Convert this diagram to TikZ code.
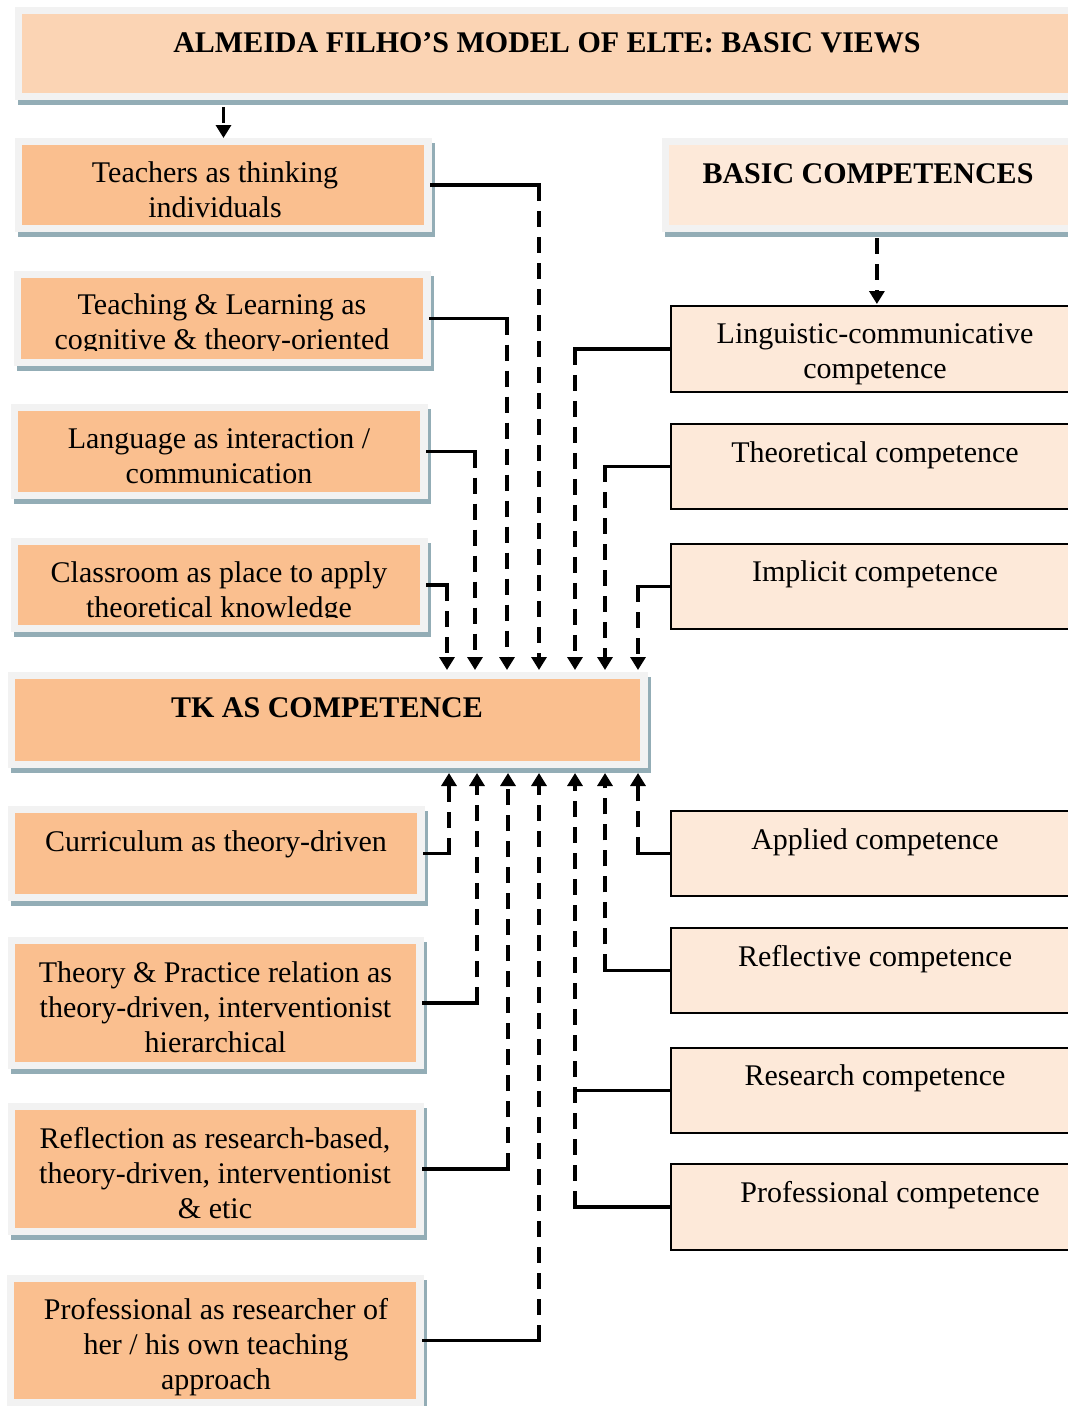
\documentclass[tikz,border=0pt]{standalone}
\usepackage{fontspec}
\setmainfont{Liberation Serif}
\usetikzlibrary{arrows.meta}
\usetikzlibrary{shadows}
\definecolor{framegrey}{HTML}{F2F2F2}
\definecolor{viewfill}{HTML}{FABF8F}
\definecolor{headfill}{HTML}{FBD4B4}
\definecolor{compfill}{HTML}{FDE9D9}
\definecolor{shadowblue}{HTML}{93ADB6}
\newcommand{\boxfont}{\fontsize{30}{35}\selectfont}
\tikzset{viewbox/.style={fill=framegrey,inner sep=0pt,outer sep=0pt,anchor=north west,
drop shadow={shadow xshift=3pt,shadow yshift=-5pt,fill=shadowblue,opacity=1},
path picture={\fill[#1] ([shift={(7pt,-7pt)}]path picture bounding box.north west)
rectangle ([shift={(-8pt,7pt)}]path picture bounding box.south east);}},
viewbox/.default=viewfill}
\tikzset{compbox/.style={rectangle,draw=black,line width=1.8pt,fill=compfill,
inner sep=0pt,minimum width=412pt,anchor=north west}}
\tikzset{viewtext/.style={anchor=north,inner sep=0pt,align=center,font=\boxfont,
execute at begin node=\strut}}
\tikzset{headtext/.style={viewtext,font=\boxfont\bfseries}}
\tikzset{joinline/.style={line width=3.4pt,line cap=rect}}
\tikzset{laneline/.style={line width=3.4pt,dash pattern=on 16pt off 10pt,
-{Triangle[length=13pt,width=15pt]}}}

\begin{document}
\begin{tikzpicture}[x=1pt,y=-1pt]
    \useasboundingbox (0,0) rectangle (1068,1406);

    % headings
    \node[viewbox=headfill,minimum width=1085pt,minimum height=93pt] (title) at (15,7) {};
    \node[viewbox=compfill,minimum width=440pt,minimum height=94pt] (basic) at (662,138) {};

    % basic views
    \node[viewbox,minimum width=417pt,minimum height=94pt] (teach) at (15,138) {};
    \node[viewbox,minimum width=417pt,minimum height=95pt] (tl) at (14,271) {};
    \node[viewbox,minimum width=417pt,minimum height=95pt] (lang) at (11,404) {};
    \node[viewbox,minimum width=417pt,minimum height=94pt] (class) at (11,538) {};
    \node[viewbox,minimum width=640pt,minimum height=96pt] (tk) at (8,672) {};
    \node[viewbox,minimum width=417pt,minimum height=95pt] (curr) at (8,806) {};
    \node[viewbox,minimum width=416pt,minimum height=132pt] (tp) at (8,937) {};
    \node[viewbox,minimum width=416pt,minimum height=132pt] (refl) at (8,1103) {};
    \node[viewbox,minimum width=417pt,minimum height=131pt] (prof) at (7,1275) {};

    % competences
    \node[compbox,minimum height=86pt] (ling) at (670,305) {};
    \node[compbox,minimum height=85pt] (theo) at (670,423) {};
    \node[compbox,minimum height=85pt] (impl) at (670,543) {};
    \node[compbox,minimum height=85pt] (appl) at (670,810) {};
    \node[compbox,minimum height=85pt] (reflc) at (670,927) {};
    \node[compbox,minimum height=85pt] (res) at (670,1047) {};
    \node[compbox,minimum height=86pt] (profc) at (670,1163) {};

    % connectors
    \draw[laneline] ([yshift=-7pt]title.south -| teach.north) -- (teach.north);
    \draw[laneline,shorten >=1pt] ([yshift=-6pt]basic.south -| ling.north) -- (ling.north);

    \foreach \src/\lane in {teach/539,tl/507,lang/475,class/447}{
        \draw[joinline] (\src.east) -- (\src.east -| \lane,0);
        \draw[laneline,shorten >=2pt] (\src.east -| \lane,0) -- (tk.north -| \lane,0);
    }
    \foreach \src/\lane in {ling/575,theo/605,impl/638}{
        \draw[joinline] (\src.west) -- (\src.west -| \lane,0);
        \draw[laneline,shorten >=2pt] (\src.west -| \lane,0) -- (tk.north -| \lane,0);
    }
    \foreach \src/\lane in {curr/449,tp/477,refl/508,prof/539}{
        \draw[joinline] (\src.east) -- (\src.east -| \lane,0);
        \draw[laneline,shorten >=5pt] (\src.east -| \lane,0) -- (tk.south -| \lane,0);
    }
    \foreach \src/\lane in {appl/638,reflc/605,profc/575}{
        \draw[joinline] (\src.west) -- (\src.west -| \lane,0);
        \draw[laneline,shorten >=5pt] (\src.west -| \lane,0) -- (tk.south -| \lane,0);
    }
    \draw[joinline] (res.west) -- (res.west -| 575,0);

    % texts
    \node[headtext] (titleT) at (547,27.5) {ALMEIDA FILHO’S MODEL OF ELTE: BASIC VIEWS};
    \node[headtext] (basicT) at (868,158.5) {BASIC COMPETENCES};
    \node[headtext] (tkT) at (327,692.5) {TK AS COMPETENCE};

    \node[viewtext] (teachT) at (215,161) {Teachers as thinking\\individuals};
    \begin{scope}
        \clip (14,271) rectangle (431,350);
        \node[viewtext] (tlT) at (222,293) {Teaching \& Learning as\\cognitive \& theory-oriented};
    \end{scope}
    \node[viewtext] (langT) at (219,428) {Language as interaction /\\communication};
    \begin{scope}
        \clip (11,538) rectangle (428,617);
        \node[viewtext] (classT) at (219,561) {Classroom as place to apply\\theoretical knowledge};
    \end{scope}
    \node[viewtext] (currT) at (216,826.5) {Curriculum as theory-driven};
    \node[viewtext] (tpT) at (215.5,961) {Theory \& Practice relation as\\theory-driven, interventionist\\hierarchical};
    \node[viewtext] (reflT) at (215,1127) {Reflection as research-based,\\theory-driven, interventionist\\\& etic};
    \node[viewtext] (profT) at (216,1298) {Professional as researcher of\\her / his own teaching\\approach};

    \node[viewtext] (lingT) at (875,323) {Linguistic-communicative\\competence};
    \node[viewtext] (theoT) at (875,437.5) {Theoretical competence};
    \node[viewtext] (implT) at (875,556.5) {Implicit competence};
    \node[viewtext] (applT) at (875,824.5) {Applied competence};
    \node[viewtext] (reflcT) at (875,941.5) {Reflective competence};
    \node[viewtext] (resT) at (875,1061) {Research competence};
    \node[viewtext] (profcT) at (890,1177.5) {Professional competence};

\end{tikzpicture}
\end{document}
